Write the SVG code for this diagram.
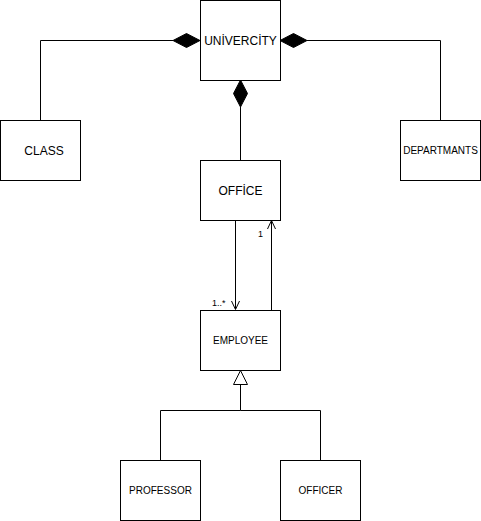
<svg xmlns="http://www.w3.org/2000/svg" width="481" height="521" viewBox="0 0 481 521">
<style>
.box{fill:#fff;stroke:#000;stroke-width:1}
.ln{fill:none;stroke:#000;stroke-width:1}
.t{font-family:"Liberation Sans",Arial,sans-serif;fill:#000;text-anchor:middle;dominant-baseline:central}
.t12{font-size:12px}
.t10{font-size:10px}
.lbl{font-family:"Liberation Sans",Arial,sans-serif;font-size:9px;fill:#000}
</style>
<rect width="481" height="521" fill="#fff"/>
<g id="connectors">
<polyline class="ln" points="40.5,120 40.5,40.5 173,40.5"/>
<polygon points="200,40.5 186.5,33.5 173,40.5 186.5,47.5" fill="#000" stroke="#000"/>
<polyline class="ln" points="440.5,120 440.5,40.5 307,40.5"/>
<polygon points="280,40.5 293.5,33.5 307,40.5 293.5,47.5" fill="#000" stroke="#000"/>
<line class="ln" x1="240.5" y1="160" x2="240.5" y2="107"/>
<polygon points="240.5,80 233.5,93.5 240.5,107 247.5,93.5" fill="#000" stroke="#000"/>
<line class="ln" x1="235.5" y1="220" x2="235.5" y2="309"/>
<polyline class="ln" points="231.5,301 235.5,309.5 239.5,301"/>
<text class="lbl" x="212" y="306">1..*</text>
<line class="ln" x1="271.5" y1="310" x2="271.5" y2="221"/>
<polyline class="ln" points="267.5,229 271.5,220.5 275.5,229"/>
<text class="lbl" x="258" y="237">1</text>
<polygon points="240.5,370.5 233.5,384.5 247.5,384.5" fill="#fff" stroke="#000"/>
<polyline class="ln" points="240.5,384.5 240.5,410.5 160.5,410.5 160.5,460"/>
<polyline class="ln" points="240.5,410.5 320.5,410.5 320.5,460"/>
</g>
<g id="univercity"><rect class="box" x="200.5" y="0.5" width="80" height="80"/><text class="t t12" x="240.5" y="41">UNİVERCİTY</text></g>
<g id="class"><rect class="box" x="0.5" y="120.5" width="80" height="60"/><text class="t t12" x="44" y="150.5">CLASS</text></g>
<g id="departmants"><rect class="box" x="400.5" y="120.5" width="80" height="60"/><text class="t t10" x="440.5" y="150.5">DEPARTMANTS</text></g>
<g id="office"><rect class="box" x="200.5" y="160.5" width="80" height="60"/><text class="t t12" x="240.5" y="190.5">OFFİCE</text></g>
<g id="employee"><rect class="box" x="200.5" y="310.5" width="80" height="60"/><text class="t t10" x="240.5" y="340.5">EMPLOYEE</text></g>
<g id="professor"><rect class="box" x="120.5" y="460.5" width="80" height="60"/><text class="t t10" x="160.5" y="490.5">PROFESSOR</text></g>
<g id="officer"><rect class="box" x="280.5" y="460.5" width="80" height="60"/><text class="t t10" x="320.5" y="490.5">OFFICER</text></g>
</svg>
